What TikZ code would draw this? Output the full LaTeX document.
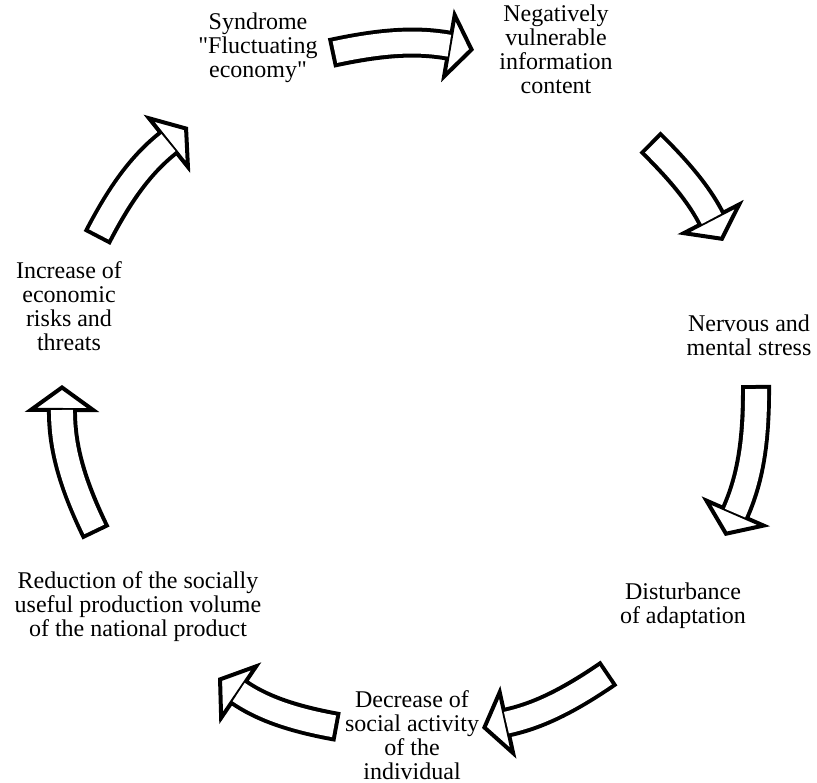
\documentclass[tikz,border=0pt]{standalone}
\usepackage{fontspec}
\setmainfont{Liberation Serif}
\usetikzlibrary{arrows.meta}

\begin{document}
\begin{tikzpicture}[x=1pt,y=1pt,
      stage/.style={align=center,inner sep=0pt,font=\fontsize{24}{24}\selectfont},
      cyclearrow/.style={draw=black,line width=30pt,
        -{Triangle[width=74pt,length=27pt,line width=4pt,fill=white]},
        postaction={draw=white,line width=22pt,-,shorten <=4pt,shorten >=25pt}}]
      \useasboundingbox (0,0) rectangle (817,-783);

      \node[stage] (syndrome) at (258,-48) {Syndrome\\\textquotedbl Fluctuating\\economy\textquotedbl};
      \node[stage] (content) at (556,-49) {Negatively\\vulnerable\\information\\content};
      \node[stage] (stress) at (749,-335) {Nervous and\\mental stress};
      \node[stage] (adaptation) at (683,-606) {Disturbance\\of adaptation};
      \node[stage] (activity) at (412,-735) {Decrease of\\social activity\\of the\\individual};
      \node[stage] (reduction) at (138,-607) {Reduction of the socially\\useful production volume\\of the national product};
      \node[stage] (risks) at (69,-306) {Increase of\\economic\\risks and\\threats};

      \coordinate (t1) at (331,-53);  \coordinate (h1) at (474,-50);
      \coordinate (t2) at (650,-142); \coordinate (h2) at (723,-241);
      \coordinate (t3) at (756,-385); \coordinate (h3) at (725,-536);
      \coordinate (t4) at (609,-673); \coordinate (h4) at (482,-728);
      \coordinate (t5) at (338,-727); \coordinate (h5) at (218,-678);
      \coordinate (t6) at (96,-533);  \coordinate (h6) at (62,-385);
      \coordinate (t7) at (97,-238);  \coordinate (h7) at (188,-127);

      \draw[cyclearrow] (t1) to[bend left=11] (h1);
      \draw[cyclearrow] (t2) to[bend left=9] (h2);
      \draw[cyclearrow] (t3) to[bend left=12] (h3);
      \draw[cyclearrow] (t4) to[bend left=11] (h4);
      \draw[cyclearrow] (t5) to[bend left=12] (h5);
      \draw[cyclearrow] (t6) to[bend left=13] (h6);
      \draw[cyclearrow] (t7) to[bend left=12] (h7);
\end{tikzpicture}
\end{document}
